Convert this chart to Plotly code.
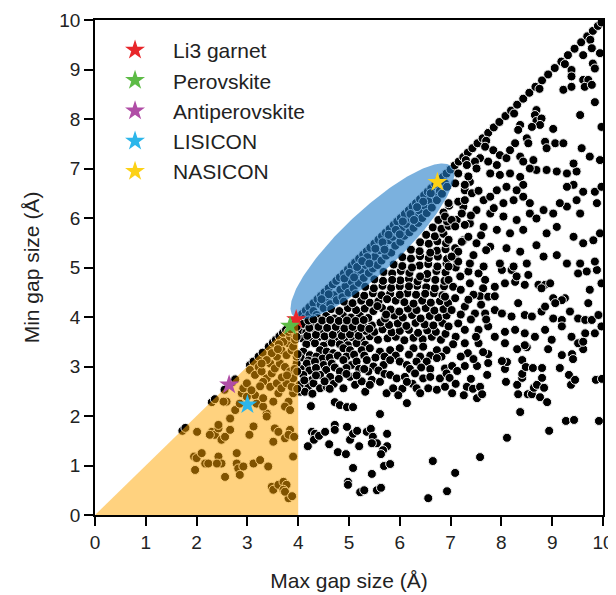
import numpy as np
import plotly.graph_objects as go

# ---------------- data (max gap, min gap) in Å ----------------
diagonal = [
    (1.72, 1.70), (1.78, 1.76), (2.30, 2.28), (2.36, 2.34), (2.55, 2.53), (2.70, 2.68), (2.76, 2.74),
    (3.05, 3.03), (3.12, 3.10), (3.22, 3.20), (3.30, 3.28), (3.42, 3.40), (3.50, 3.48), (3.56, 3.54),
    (3.63, 3.61), (3.70, 3.68), (3.76, 3.74), (3.88, 3.86),
    (4.00, 3.98), (4.08, 4.06), (4.15, 4.13), (4.22, 4.20), (4.30, 4.28), (4.38, 4.36), (4.45, 4.43),
    (4.52, 4.50), (4.60, 4.58), (4.68, 4.66), (4.75, 4.73), (4.82, 4.80), (4.90, 4.88), (4.98, 4.96),
    (5.05, 5.03), (5.12, 5.10), (5.20, 5.18), (5.28, 5.26), (5.35, 5.33), (5.42, 5.40), (5.50, 5.48),
    (5.58, 5.56), (5.65, 5.63), (5.72, 5.70), (5.80, 5.78), (5.88, 5.86), (5.95, 5.93), (6.02, 6.00),
    (6.10, 6.08), (6.18, 6.16), (6.25, 6.23), (6.32, 6.30), (6.40, 6.38), (6.48, 6.46), (6.55, 6.53),
    (6.62, 6.60), (6.70, 6.68), (6.78, 6.76), (6.85, 6.83), (6.92, 6.90), (7.00, 6.98),
    (7.08, 7.06), (7.16, 7.14), (7.25, 7.23), (7.34, 7.32), (7.43, 7.41), (7.53, 7.51), (7.63, 7.61),
    (7.74, 7.72), (7.85, 7.83), (7.96, 7.94), (8.08, 8.06), (8.19, 8.17), (8.31, 8.29), (8.43, 8.41),
    (8.55, 8.53), (8.67, 8.65), (8.80, 8.78), (8.92, 8.90), (9.05, 9.03), (9.18, 9.16), (9.31, 9.29),
    (9.44, 9.42), (9.57, 9.55), (9.69, 9.67), (9.80, 9.78), (9.90, 9.88), (9.97, 9.95),
    (7.30, 7.17), (7.70, 7.56), (8.25, 8.11), (8.75, 8.61), (9.25, 9.11), (9.75, 9.60),
]

ellipse_band = [
    (4.12, 3.97), (4.22, 4.05), (4.30, 4.12), (4.36, 4.04), (4.44, 4.25), (4.50, 4.18), (4.56, 4.33),
    (4.63, 4.26), (4.70, 4.44), (4.76, 4.34), (4.83, 4.55), (4.87, 4.40), (4.93, 4.62), (4.99, 4.49),
    (5.05, 4.72), (5.09, 4.58), (5.13, 4.85), (5.19, 4.69), (5.23, 4.95), (5.29, 4.79), (5.33, 5.05),
    (5.39, 4.89), (5.43, 5.15), (5.47, 4.98), (5.51, 5.22), (5.56, 5.05), (5.61, 5.35), (5.64, 5.14),
    (5.69, 5.42), (5.73, 5.24), (5.79, 5.55), (5.83, 5.30), (5.86, 5.62), (5.91, 5.44), (5.96, 5.70),
    (6.01, 5.52), (6.04, 5.80), (6.09, 5.64), (6.13, 5.88), (6.19, 5.71), (6.23, 5.98), (6.27, 5.80),
    (6.31, 6.05), (6.36, 5.90), (6.39, 6.15), (6.44, 6.00), (6.49, 6.25), (6.53, 6.10), (6.59, 6.35),
    (6.63, 6.21), (6.69, 6.45), (6.73, 6.36), (6.79, 6.55), (6.83, 6.49), (6.89, 6.70), (6.93, 6.63),
    (4.60, 4.46), (4.91, 4.78), (5.16, 5.01), (5.36, 5.21), (5.52, 5.38), (5.66, 5.51), (5.92, 5.76),
    (6.06, 5.93), (6.21, 6.08), (6.46, 6.33), (6.61, 6.50), (5.26, 5.13), (5.01, 4.89), (4.46, 4.36),
    (5.78, 5.66), (6.34, 6.22), (5.40, 5.08), (5.70, 5.36), (6.00, 5.67), (6.28, 5.96), (5.10, 4.80),
]

dense_upper = [
    (4.08, 3.57), (4.24, 3.53), (4.41, 3.60), (4.58, 3.55), (4.73, 3.58), (4.91, 3.52), (5.07, 3.59),
    (5.24, 3.55), (5.41, 3.61), (5.57, 3.54), (5.76, 3.57), (5.92, 3.60), (6.09, 3.53), (6.27, 3.58),
    (6.45, 3.55), (6.63, 3.60), (6.81, 3.54),
    (4.02, 3.72), (4.16, 3.69), (4.33, 3.74), (4.49, 3.68), (4.66, 3.73), (4.83, 3.70), (4.99, 3.75),
    (5.15, 3.68), (5.33, 3.72), (5.50, 3.70), (5.66, 3.75), (5.84, 3.69), (6.00, 3.72), (6.18, 3.74),
    (6.36, 3.68), (6.54, 3.73), (6.71, 3.70), (6.90, 3.66),
    (4.10, 3.86), (4.27, 3.83), (4.44, 3.88), (4.61, 3.84), (4.77, 3.87), (4.94, 3.82), (5.10, 3.88),
    (5.27, 3.85), (5.45, 3.83), (5.62, 3.89), (5.79, 3.84), (5.96, 3.87), (6.13, 3.82), (6.31, 3.88),
    (6.49, 3.85), (6.66, 3.83), (6.84, 3.88),
    (4.38, 3.98), (4.55, 4.02), (4.71, 3.97), (4.88, 4.03), (5.04, 3.99), (5.21, 4.04), (5.38, 3.98),
    (5.71, 3.97), (5.89, 4.03), (6.06, 3.99), (6.24, 4.04), (6.41, 3.97), (6.59, 4.02), (6.76, 3.99),
    (6.92, 4.03),
    (4.65, 4.16), (4.81, 4.12), (4.98, 4.18), (5.14, 4.14), (5.31, 4.17), (5.48, 4.12), (5.65, 4.18),
    (5.82, 4.15), (5.99, 4.11), (6.16, 4.17), (6.33, 4.14), (6.51, 4.18), (6.68, 4.13), (6.86, 4.16),
    (4.90, 4.31), (5.07, 4.28), (5.24, 4.33), (5.41, 4.29), (5.58, 4.32), (5.92, 4.33), (6.09, 4.30),
    (6.44, 4.33), (6.61, 4.29), (6.79, 4.32), (6.95, 4.28),
    (5.13, 4.46), (5.30, 4.43), (5.47, 4.48), (5.64, 4.44), (5.81, 4.47), (6.15, 4.48), (6.32, 4.45),
    (6.67, 4.48), (6.84, 4.44),
    (5.32, 4.61), (5.49, 4.58), (5.66, 4.63), (5.83, 4.59), (6.00, 4.62), (6.34, 4.63), (6.52, 4.60),
    (6.69, 4.58), (6.87, 4.62),
    (5.50, 4.76), (5.67, 4.73), (6.01, 4.74), (6.18, 4.77), (6.35, 4.72), (6.53, 4.78), (6.70, 4.75),
    (6.88, 4.73),
    (5.68, 4.91), (5.85, 4.88), (6.02, 4.93), (6.19, 4.89), (6.54, 4.87), (6.72, 4.93), (6.90, 4.90),
    (5.88, 5.06), (6.05, 5.03), (6.39, 5.04), (6.56, 5.07), (6.74, 5.02), (6.92, 5.08),
    (6.05, 5.21), (6.22, 5.18), (6.40, 5.23), (6.57, 5.19), (6.75, 5.22), (6.93, 5.17),
    (6.22, 5.36), (6.39, 5.33), (6.73, 5.34), (6.90, 5.37),
    (6.40, 5.51), (6.57, 5.48), (6.74, 5.53), (6.91, 5.49),
    (6.52, 5.66), (6.69, 5.63), (6.86, 5.68),
    (6.65, 5.81), (6.82, 5.78), (6.96, 5.84),
    (6.76, 5.96), (6.93, 5.93), (6.86, 6.11), (6.97, 6.25),
    (4.16, 3.45), (4.33, 3.47), (4.50, 3.42), (4.66, 3.48), (4.82, 3.45), (4.98, 3.43), (5.15, 3.47),
    (5.32, 3.44), (4.18, 3.62), (4.35, 3.64), (4.52, 3.61), (4.68, 3.64), (4.86, 3.62), (5.02, 3.65),
    (5.19, 3.62), (4.22, 3.78), (4.40, 3.80), (4.57, 3.78), (4.74, 3.80), (4.91, 3.77), (5.07, 3.80),
    (5.24, 3.78), (5.40, 3.76), (4.47, 3.93), (4.63, 3.94), (4.80, 3.92), (4.96, 3.93), (5.13, 3.92),
    (5.29, 3.94), (4.20, 3.93), (4.30, 3.95),
    (5.73, 4.05), (5.56, 4.22), (5.75, 4.36), (6.27, 4.27), (6.00, 4.45), (6.50, 4.47), (6.18, 4.62),
    (5.85, 4.75), (6.40, 4.82), (6.24, 5.00), (6.60, 5.30),
]

dense_lower = [
    (4.10, 3.30), (4.23, 3.23), (4.43, 3.33), (4.56, 3.30), (4.69, 3.27), (4.89, 3.37), (5.02, 3.33),
    (5.25, 3.33), (5.41, 3.37), (5.61, 3.30), (5.81, 3.33), (6.00, 3.37), (6.27, 3.37), (6.46, 3.40),
    (6.73, 3.33), (6.92, 3.33),
    (4.05, 3.18), (4.20, 3.12), (4.36, 3.20), (4.48, 3.16), (4.62, 3.18), (4.78, 3.22), (4.95, 3.20),
    (5.10, 3.24), (5.30, 3.22), (5.52, 3.18), (5.70, 3.20), (5.92, 3.22), (6.18, 3.24), (6.40, 3.20),
    (6.60, 3.22), (6.82, 3.20),
    (4.17, 3.06), (4.33, 3.10), (4.50, 3.03), (4.66, 3.06), (4.89, 3.13), (5.05, 3.03), (5.15, 3.10),
    (5.35, 3.13), (5.48, 3.00), (5.68, 3.03), (5.81, 3.13), (6.00, 3.10), (6.14, 3.03), (6.33, 3.10),
    (6.53, 3.10), (6.73, 3.17), (6.89, 2.96),
    (4.05, 2.95), (4.22, 2.92), (4.35, 2.97), (4.55, 2.93), (4.72, 2.98), (4.95, 2.97), (5.20, 2.95),
    (5.58, 2.92), (5.70, 2.85), (6.20, 2.95), (6.42, 2.98), (6.60, 2.95),
    (4.10, 2.83), (4.27, 2.73), (4.43, 2.83), (4.63, 2.79), (4.82, 2.90), (5.02, 2.79), (5.38, 2.90),
    (5.45, 2.73), (5.61, 2.69), (5.81, 2.83), (5.94, 2.76), (6.10, 2.79), (6.30, 2.86), (6.46, 2.76),
    (6.60, 2.79), (6.79, 2.76), (6.92, 2.86),
    (4.20, 2.60), (4.30, 2.66), (4.70, 2.65), (5.12, 2.63), (5.25, 2.70), (6.05, 2.55), (6.25, 2.65),
    (4.43, 2.56), (4.56, 2.59), (4.89, 2.56), (5.32, 2.49), (5.41, 2.63), (5.74, 2.46), (5.87, 2.56),
    (5.97, 2.42), (6.14, 2.69), (6.33, 2.56), (6.40, 2.46), (6.56, 2.56), (6.73, 2.53), (6.89, 2.59),
    (4.04, 2.49), (4.13, 2.49), (4.03, 2.63),
    (4.12, 2.72), (4.35, 2.82), (4.52, 2.70), (4.62, 2.55), (4.28, 2.45), (4.80, 2.75), (4.95, 2.85),
    (5.15, 2.82), (5.30, 2.95),
]

lower_cluster = [
    (4.25, 2.20), (4.72, 2.28), (4.82, 2.22), (4.96, 2.18), (5.08, 2.18), (5.61, 2.04), (6.14, 2.26),
    (4.27, 1.68), (4.33, 1.64), (4.19, 1.39), (4.31, 1.52), (4.41, 1.60), (4.53, 1.68), (4.72, 1.82),
    (4.72, 1.72), (4.96, 1.78), (4.61, 1.43), (4.78, 1.27), (4.94, 1.23), (5.02, 1.52), (5.08, 1.64),
    (5.16, 1.70), (5.20, 1.39), (5.35, 1.68), (5.43, 1.74), (5.47, 1.58), (5.55, 1.45), (5.45, 1.45),
    (5.75, 1.64), (5.75, 1.39), (5.67, 1.31), (5.63, 1.23), (5.08, 0.95), (5.45, 0.83), (5.69, 0.99),
    (5.81, 1.03), (4.98, 0.67), (4.98, 0.61), (5.22, 0.46), (5.30, 0.50), (5.55, 0.50), (5.63, 0.55),
    (6.65, 1.09), (6.93, 0.48), (6.56, 0.34), (7.09, 0.85), (7.58, 1.17), (8.11, 1.56), (8.37, 2.08),
    (8.94, 1.70), (9.27, 1.90), (9.43, 1.92), (9.92, 1.90),
]

right_low = [
    (7.32, 2.59), (7.26, 2.42), (7.52, 2.36), (7.44, 2.55), (7.58, 2.59), (7.62, 2.44), (7.03, 2.46),
    (7.28, 3.01), (7.03, 3.01), (7.13, 2.91), (7.52, 3.01), (7.72, 2.83), (7.74, 3.07), (7.74, 3.25),
    (7.34, 3.27), (7.64, 3.29), (8.09, 2.69), (8.07, 2.95), (8.11, 3.09), (8.01, 3.11), (8.31, 2.63),
    (8.33, 2.44), (8.41, 2.77), (8.41, 2.85), (8.41, 3.13), (8.48, 2.99), (8.52, 2.44), (8.60, 2.44),
    (8.64, 2.57), (8.70, 2.63), (8.80, 2.77), (8.84, 2.57), (8.76, 2.38), (8.90, 2.28), (8.80, 2.97),
    (8.62, 2.97), (8.92, 3.35), (9.37, 2.63), (9.33, 2.83), (9.45, 2.73), (9.15, 2.97), (9.19, 3.23),
    (9.39, 3.25), (9.41, 3.15), (9.61, 3.35), (9.86, 2.73), (9.98, 2.75), (8.31, 3.35), (8.50, 3.39),
    (6.98, 2.77), (7.20, 3.20), (7.45, 3.15), (7.10, 2.65), (7.40, 2.75),
]

right_mid = [
    (6.96, 4.75), (7.35, 4.92), (7.55, 4.88), (7.68, 4.75), (7.19, 4.82), (7.05, 4.61), (7.38, 4.68),
    (7.64, 4.58), (7.58, 4.42), (7.74, 4.41), (6.89, 4.41), (7.09, 4.38), (7.02, 4.14), (7.28, 4.21),
    (7.48, 4.07), (7.68, 4.07), (6.96, 3.81), (7.15, 3.87), (7.28, 3.74), (7.55, 3.74), (7.74, 3.81),
    (7.28, 3.47), (7.55, 3.47), (7.10, 3.60), (7.40, 3.95), (7.20, 4.55), (7.45, 4.45), (7.10, 5.00),
    (7.20, 4.05), (7.60, 4.25), (7.35, 4.35), (7.50, 3.60), (7.05, 3.45), (7.70, 3.95),
    (7.87, 4.61), (8.07, 4.68), (8.27, 4.71), (8.46, 4.65), (8.73, 4.65), (8.86, 4.65), (8.96, 4.68),
    (8.79, 4.58), (7.87, 4.42), (9.25, 4.38), (9.19, 4.34), (9.02, 4.38), (9.74, 4.55), (9.71, 4.28),
    (7.87, 4.14), (8.01, 4.07), (8.20, 4.01), (8.33, 4.28), (8.46, 4.04), (8.60, 4.01), (8.79, 4.11),
    (8.86, 4.21), (9.06, 4.28), (9.02, 3.97), (9.19, 3.94), (9.35, 4.11), (9.51, 3.97), (9.65, 3.94),
    (9.78, 3.94), (9.91, 4.04), (7.87, 3.60), (8.07, 3.70), (8.27, 3.74), (8.46, 3.67), (8.66, 3.60),
    (8.86, 3.74), (8.99, 3.54), (9.19, 3.81), (9.38, 3.60), (9.51, 3.47), (9.65, 3.67), (9.84, 3.67),
    (9.97, 3.81), (8.07, 3.47), (8.46, 3.43), (8.01, 4.95), (8.20, 4.95), (8.30, 4.82), (8.53, 4.85),
    (9.51, 4.88), (9.68, 4.92), (9.88, 4.95), (9.97, 4.68), (9.61, 3.50),
]

right_upper = [
    (9.29, 6.90), (9.48, 6.94), (9.42, 6.67), (9.29, 6.63), (9.61, 6.53), (9.84, 6.53), (9.97, 6.63),
    (7.78, 6.90), (7.97, 6.87), (8.17, 6.90), (8.37, 6.83), (8.43, 6.67), (8.10, 6.63), (8.30, 6.56),
    (7.91, 6.56), (7.38, 6.73), (7.28, 6.56), (7.42, 6.50), (7.65, 6.36), (7.78, 6.43), (8.04, 6.30),
    (8.24, 6.36), (8.43, 6.43), (8.56, 6.30), (8.83, 6.16), (9.02, 6.09), (9.29, 6.23), (9.48, 6.36),
    (9.88, 6.30), (9.94, 5.69), (9.55, 6.09), (9.15, 6.30), (7.25, 6.23), (7.51, 6.16), (7.78, 6.09),
    (8.04, 6.03), (8.30, 5.96), (8.56, 6.09), (8.69, 5.99), (7.12, 5.96), (7.38, 5.89), (7.65, 5.82),
    (7.91, 5.76), (8.17, 5.69), (8.43, 5.76), (8.89, 5.69), (9.09, 5.82), (9.42, 5.62), (9.61, 5.49),
    (9.81, 5.55), (7.25, 5.55), (7.51, 5.49), (7.78, 5.42), (8.10, 5.39), (8.37, 5.32), (8.69, 5.45),
    (8.83, 5.22), (9.09, 5.25), (9.29, 5.08), (9.55, 5.08), (9.84, 5.12), (7.12, 5.15), (7.38, 5.08),
    (7.65, 5.02), (7.97, 5.08), (8.24, 5.02), (8.50, 5.08),
    (6.96, 5.02), (7.15, 5.12), (6.96, 5.56), (7.22, 5.52), (7.35, 5.62), (7.09, 5.39), (7.15, 5.32),
    (7.02, 5.22), (6.89, 6.03), (7.02, 5.96), (7.22, 6.09), (7.28, 5.86), (7.09, 5.83), (6.96, 6.30),
    (7.15, 6.33), (7.28, 6.36), (7.09, 6.70), (7.28, 6.67), (7.15, 6.90), (7.35, 6.84),
    (7.45, 5.25), (7.60, 5.65), (7.40, 6.05), (7.55, 6.55), (7.85, 6.20), (7.70, 5.35),
]

top_right = [
    (9.78, 9.43), (9.61, 9.29), (9.80, 9.12), (9.84, 9.02), (9.38, 8.99), (9.38, 8.86), (9.61, 8.79),
    (9.71, 8.79), (9.64, 8.65), (9.78, 8.69), (9.22, 8.59), (9.38, 8.65), (9.84, 8.34), (9.55, 8.08),
    (9.97, 7.84), (8.69, 8.18), (8.66, 8.08), (8.69, 7.96), (8.79, 8.01), (8.76, 7.88), (8.60, 7.84),
    (8.37, 7.88), (8.33, 7.78), (9.02, 7.80), (8.50, 7.61), (8.53, 7.51), (8.27, 7.51), (8.86, 7.54),
    (8.89, 7.41), (9.06, 7.51), (9.22, 7.51), (9.58, 7.41), (9.42, 7.10), (9.74, 7.24), (9.94, 7.17),
    (7.68, 7.44), (7.84, 7.37), (7.97, 7.27), (8.10, 7.21), (8.17, 7.37), (7.58, 7.21), (7.48, 7.14),
    (7.74, 7.14), (7.91, 7.07), (8.37, 7.24), (8.43, 7.14), (8.63, 7.17), (8.69, 6.97), (8.56, 7.00),
    (8.89, 6.97), (9.09, 6.94), (7.51, 7.00), (7.32, 7.07), (9.94, 9.33),
]

orange_region = [
    (2.01, 1.68), (2.30, 1.68), (2.36, 1.62), (2.43, 1.75), (2.49, 1.52), (2.56, 1.58), (2.43, 1.82),
    (2.26, 1.62), (2.66, 1.72), (1.95, 1.18), (2.00, 1.15), (2.10, 1.25), (2.17, 1.04), (2.23, 1.04),
    (1.97, 0.91), (2.43, 1.18), (2.49, 1.04), (2.40, 1.04), (2.56, 0.77), (2.79, 1.25), (2.79, 1.04),
    (2.82, 0.94), (2.92, 0.98), (2.85, 0.81), (3.12, 1.04), (3.25, 1.11), (3.41, 0.98), (3.48, 0.57),
    (3.51, 0.51), (3.61, 0.61), (3.71, 0.67), (3.77, 0.61), (3.71, 0.51), (3.81, 0.34), (3.74, 0.47),
    (2.59, 2.29), (2.76, 2.12), (2.66, 1.95), (3.04, 1.62), (3.12, 1.79), (3.38, 2.05), (3.38, 1.99),
    (3.54, 1.75), (3.61, 1.68), (3.74, 1.55), (3.84, 1.72), (3.81, 1.62), (3.90, 1.18), (3.51, 1.48),
    (2.89, 2.46), (2.92, 2.56), (2.99, 2.66), (3.15, 2.42), (3.18, 2.25), (3.31, 2.19), (3.31, 2.36),
    (3.51, 2.29), (3.61, 2.46), (3.81, 2.29), (3.90, 2.46), (3.05, 2.93), (3.15, 2.83), (3.22, 2.99),
    (3.28, 2.90), (3.38, 2.76), (3.48, 2.86), (3.31, 2.69), (3.45, 2.59), (3.58, 2.66), (3.67, 2.56),
    (3.77, 2.66), (3.87, 2.59), (3.45, 3.06), (3.54, 2.96), (3.64, 3.06), (3.74, 2.99), (3.84, 2.90),
    (3.90, 2.76), (3.58, 3.20), (3.67, 3.33), (3.77, 3.23), (3.87, 3.33), (3.81, 3.47), (3.90, 3.40),
    (3.71, 3.50), (3.84, 3.60), (3.90, 3.67), (3.81, 3.70), (3.94, 3.54), (3.48, 3.27), (3.38, 3.13),
    (3.28, 3.06), (3.97, 3.06), (3.97, 3.20), (2.99, 2.39), (3.08, 2.52), (2.85, 2.25), (2.53, 2.29),
    (3.74, 2.19), (3.84, 2.12), (3.92, 1.58), (3.88, 0.38), (3.62, 3.45), (3.68, 2.78), (3.25, 2.60),
    (3.92, 3.85), (3.85, 3.75), (3.60, 3.35), (3.78, 2.82), (3.93, 2.95), (3.98, 2.55), (3.98, 2.90),
    (3.99, 3.25), (3.97, 3.60), (3.97, 3.80),
]

materials = ["Li3 garnet", "Perovskite", "Antiperovskite", "LISICON", "NASICON"]
material_max_gap = [3.96, 3.84, 2.64, 3.00, 6.74]
material_min_gap = [3.95, 3.82, 2.63, 2.23, 6.72]
material_colors = ["#e8262a", "#5dbb46", "#b04da6", "#2cb6ea", "#fcd116"]

tick_values = [0, 1, 2, 3, 4, 5, 6, 7, 8, 9, 10]
tick_labels = ["0", "1", "2", "3", "4", "5", "6", "7", "8", "9", "10"]

# highlighted regions
triangle_x = [0, 4, 4, 0]
triangle_y = [0, 0, 4, 0]
ellipse_center = (5.46, 5.53)
ellipse_semi_major = 2.17
ellipse_semi_minor = 0.60
ellipse_angle_deg = 44.2

# ---------------- figure ----------------
all_points = (diagonal + ellipse_band + dense_upper + dense_lower + lower_cluster +
              right_low + right_mid + right_upper + top_right + orange_region)
max_gap = [p[0] for p in all_points]
min_gap = [p[1] for p in all_points]

fig = go.Figure()
fig.add_trace(go.Scatter(
    x=max_gap, y=min_gap, mode="markers", showlegend=False, hoverinfo="skip",
    marker=dict(size=9, color="black", line=dict(color="#f2f2f2", width=1)),
))

fig.add_trace(go.Scatter(
    x=triangle_x, y=triangle_y, mode="lines", fill="toself",
    fillcolor="rgba(255,165,0,0.5)", line=dict(width=0), showlegend=False, hoverinfo="skip",
))

t = np.linspace(0, 2 * np.pi, 240)
ang = np.deg2rad(ellipse_angle_deg)
ex = ellipse_center[0] + ellipse_semi_major * np.cos(t) * np.cos(ang) - ellipse_semi_minor * np.sin(t) * np.sin(ang)
ey = ellipse_center[1] + ellipse_semi_major * np.cos(t) * np.sin(ang) + ellipse_semi_minor * np.sin(t) * np.cos(ang)
fig.add_trace(go.Scatter(
    x=ex, y=ey, mode="lines", fill="toself",
    fillcolor="rgba(35,125,200,0.6)", line=dict(width=0), showlegend=False, hoverinfo="skip",
))

for name, mx, mn, col in zip(materials, material_max_gap, material_min_gap, material_colors):
    fig.add_trace(go.Scatter(
        x=[mx], y=[mn], mode="markers", name=name, legendgroup=name,
        marker=dict(symbol="star", size=15, color=col, line=dict(width=0)),
    ))

axis_common = dict(
    range=[0, 10], tickmode="array", tickvals=tick_values, ticktext=tick_labels,
    showgrid=False, zeroline=False, showline=True, linecolor="black", linewidth=1.6,
    mirror=True, ticks="outside", ticklen=9, tickwidth=1.6, tickcolor="black",
    tickfont=dict(size=19, color="#222"), automargin=False,
)

# the page body adds an 8px offset, so the figure is sized to fit the 616x595 window
fig.update_layout(
    width=608, height=587,
    margin=dict(l=87, r=13, t=12, b=80),
    paper_bgcolor="white", plot_bgcolor="white",
    font=dict(family="Liberation Sans, Arial, sans-serif", color="#222"),
    xaxis=dict(**axis_common, title=dict(text="Max gap size (Å)", font=dict(size=21), standoff=22)),
    yaxis=dict(**axis_common, title=dict(text="Min gap size (Å)", font=dict(size=21), standoff=14)),
    legend=dict(
        x=0.004, y=0.98, xanchor="left", yanchor="top", bgcolor="rgba(0,0,0,0)",
        font=dict(size=21, color="#222"), itemwidth=66, tracegroupgap=0, traceorder="grouped",
    ),
)

fig.write_html("out.html")
